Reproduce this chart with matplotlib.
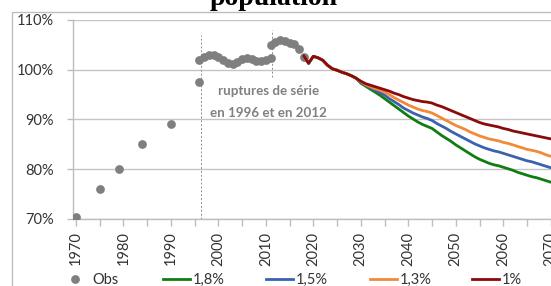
import matplotlib
matplotlib.use("Agg")
import matplotlib.pyplot as plt
from matplotlib.lines import Line2D
from matplotlib.patches import Rectangle

plt.rcParams['font.family'] = ['Lato', 'DejaVu Sans']

# ---- data ----
obs_years = [1970, 1975, 1979, 1984, 1990, 1996,
             1996, 1997, 1998, 1999, 2000, 2001, 2002, 2003, 2004, 2005,
             2006, 2007, 2008, 2009, 2010, 2011,
             2011, 2012, 2013, 2014, 2015, 2016, 2017, 2018]
obs_values = [70.5, 76.0, 80.0, 85.0, 89.0, 97.5,
              102.0, 102.6, 102.9, 103.0, 102.6, 101.9, 101.3, 101.2, 101.6, 102.2,
              102.4, 102.2, 101.8, 101.7, 101.9, 102.4,
              105.0, 105.6, 106.0, 105.8, 105.4, 105.1, 104.2, 102.6]

proj_years = list(range(2018, 2071))
common = [102.8, 101.3, 102.7, 102.4, 101.9, 100.9, 100.2, 99.9, 99.5, 99.2, 98.8, 98.3]

s_1_8 = common + [97.3, 96.7, 96.1, 95.5, 94.9, 94.2, 93.5, 92.8, 92.1, 91.4,
                  90.7, 90.1, 89.5, 89.0, 88.6, 88.2, 87.5, 86.8, 86.2, 85.6,
                  84.9, 84.3, 83.7, 83.1, 82.5, 82.0, 81.6, 81.2, 80.9, 80.7,
                  80.4, 80.1, 79.8, 79.4, 79.1, 78.8, 78.5, 78.3, 78.0, 77.7, 77.4]
s_1_5 = common + [97.5, 96.9, 96.4, 95.9, 95.4, 94.9, 94.2, 93.6, 93.0, 92.3,
                  91.8, 91.3, 90.9, 90.5, 90.2, 89.8, 89.2, 88.7, 88.2, 87.6,
                  87.1, 86.6, 86.1, 85.6, 85.1, 84.7, 84.3, 84.0, 83.7, 83.5,
                  83.2, 82.9, 82.6, 82.3, 82.0, 81.7, 81.5, 81.2, 80.9, 80.6, 80.3]
s_1_3 = common + [97.6, 97.0, 96.6, 96.2, 95.9, 95.5, 95.0, 94.4, 93.9, 93.4,
                  92.9, 92.5, 92.1, 91.8, 91.6, 91.3, 90.8, 90.3, 89.8, 89.3,
                  88.8, 88.4, 88.0, 87.5, 87.1, 86.7, 86.4, 86.1, 85.9, 85.7,
                  85.4, 85.2, 84.9, 84.6, 84.3, 84.0, 83.8, 83.6, 83.3, 82.9, 82.6]
s_1_0 = common + [97.7, 97.2, 96.9, 96.6, 96.3, 96.0, 95.7, 95.3, 95.0, 94.6,
                  94.3, 94.0, 93.8, 93.6, 93.5, 93.3, 92.9, 92.6, 92.2, 91.8,
                  91.4, 91.0, 90.6, 90.2, 89.8, 89.4, 89.1, 88.9, 88.7, 88.5,
                  88.2, 88.0, 87.7, 87.5, 87.3, 87.1, 86.9, 86.7, 86.5, 86.3, 86.1]

series_labels = ['1,8%', '1,5%', '1,3%', '1%']
series_colors = ['#0f7d12', '#3a62b0', '#f28a38', '#8b0a0a']
series_values = [s_1_8, s_1_5, s_1_3, s_1_0]

break_years = [1996.3, 2011.4]
y_ticks = [70, 80, 90, 100, 110]
x_label_years = list(range(1970, 2071, 10))
x_minor_years = list(range(1975, 2071, 10))

# ---- figure ----
W, H = 551, 286
fig = plt.figure(figsize=(W / 100, H / 100), dpi=100)
ax = fig.add_axes([73 / W, 1 - 219 / H, (W - 73) / W + 0.01, 199 / H])

# chart border
fig.patches.append(Rectangle((12 / W, -0.5), 1.5, 1.5 - 12 / H, transform=fig.transFigure,
                             fill=False, edgecolor='#bdbdbd', lw=1.0))

fig.text(274 / W, 1 - 5 / H, 'population', family=['Liberation Serif', 'DejaVu Serif'],
         fontweight='bold', fontsize=20, ha='center', va='baseline', color='black')

grid_c = '#c4c4c4'
for v in y_ticks:
    ax.axhline(v, color=grid_c, lw=1.0, zorder=0)

ax.plot(obs_years, obs_values, 'o', color='#7f7f7f', ms=6.3, mec='none', zorder=3)
for vals, col in zip(series_values, series_colors):
    ax.plot(proj_years, vals, color=col, lw=2.0, zorder=4, solid_capstyle='round')

ax.plot([break_years[0]] * 2, [70, 107], color='#8c8c8c', lw=0.7, ls=(0, (2, 2)), zorder=2)
ax.plot([break_years[1]] * 2, [98.6, 108], color='#8c8c8c', lw=0.7, ls=(0, (2, 2)), zorder=2)

ax.text(2010.5, 95.8, 'ruptures de série', ha='center', va='center', fontsize=9.6,
        color='#808080', fontweight='bold')
ax.text(2010.5, 91.3, 'en 1996 et en 2012', ha='center', va='center', fontsize=9.6,
        color='#808080', fontweight='bold')

ax.set_xlim(1969.4, 2071.2)
ax.set_ylim(70, 110)
ax.set_yticks(y_ticks)
ax.set_yticklabels([f'{v}%' for v in y_ticks])
ax.set_xticks(x_label_years)
ax.set_xticklabels([str(y) for y in x_label_years], rotation=90)
ax.set_xticks(x_minor_years, minor=True)

for s in ['top', 'right']:
    ax.spines[s].set_visible(False)
for s in ['left', 'bottom']:
    ax.spines[s].set_color('#bdbdbd')
    ax.spines[s].set_linewidth(1.0)
ax.tick_params(axis='y', length=4, color='#bdbdbd', width=1.0, pad=10, labelsize=10.5,
               labelcolor='#333333')
ax.tick_params(axis='x', which='both', length=5, color='#bdbdbd', width=1.0, pad=4,
               labelsize=10.5, labelcolor='#333333')
ax.patch.set_visible(False)

# legend entries
handles = [Line2D([], [], ls='none', marker='o', color='#7f7f7f', ms=6.3, mec='none')]
handles += [Line2D([], [], color=c, lw=2.0) for c in series_colors]
labels = ['Obs'] + series_labels
starts = [62, 163, 266, 370, 472]
for h, l, x0 in zip(handles, labels, starts):
    fig.legend(handles=[h], labels=[l], loc='center left', bbox_to_anchor=(x0 / W, 1 - 280 / H),
               frameon=False, fontsize=10.5, handlelength=1.85, handletextpad=0.2,
               borderpad=0, borderaxespad=0, labelcolor='#333333')

fig.savefig('out.png', dpi=100)
